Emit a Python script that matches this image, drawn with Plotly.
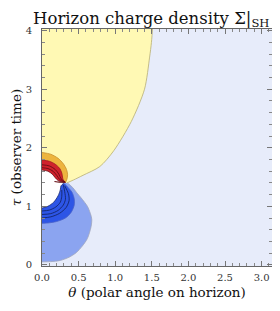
import plotly.graph_objects as go

# ---- region boundaries: theta (polar angle), tau (observer time)
yellow_edge_theta = [1.525, 1.51, 1.495, 1.47, 1.40, 1.22, 0.98, 0.79, 0.56, 0.43, 0.34]
yellow_edge_tau   = [4.20, 4.03, 3.80, 3.55, 3.00, 2.45, 1.95, 1.68, 1.53, 1.45, 1.40]

orange_edge_theta = [0.0, 0.12, 0.22, 0.29, 0.335, 0.35, 0.34, 0.32]
orange_edge_tau   = [1.92, 1.89, 1.82, 1.73, 1.63, 1.54, 1.46, 1.41]

red_edge_theta = [0.0, 0.10, 0.18, 0.24, 0.27, 0.28, 0.29, 0.32]
red_edge_tau   = [1.79, 1.77, 1.72, 1.65, 1.57, 1.50, 1.45, 1.41]

white_top_theta = [0.0, 0.08, 0.14, 0.18, 0.22, 0.30]
white_top_tau   = [1.62, 1.60, 1.55, 1.49, 1.44, 1.41]
white_bot_theta = [0.30, 0.26, 0.25, 0.22, 0.16, 0.08, 0.0]
white_bot_tau   = [1.40, 1.35, 1.28, 1.18, 1.07, 1.00, 0.97]

blue_edge_theta = [0.30, 0.35, 0.41, 0.44, 0.44, 0.40, 0.32, 0.20, 0.08, 0.0]
blue_edge_tau   = [1.39, 1.33, 1.24, 1.13, 1.02, 0.90, 0.80, 0.74, 0.715, 0.71]

lightblue_edge_theta = [0.35, 0.42, 0.47, 0.55, 0.62, 0.66, 0.68, 0.67, 0.62, 0.55, 0.47, 0.37, 0.25, 0.12, 0.0]
lightblue_edge_tau   = [1.395, 1.32, 1.24, 1.12, 1.00, 0.88, 0.78, 0.65, 0.45, 0.32, 0.21, 0.13, 0.075, 0.055, 0.05]

# interior contour lines
red_lines_theta = [[0.0, 0.08, 0.15, 0.20, 0.24, 0.31],
                   [0.0, 0.10, 0.18, 0.23, 0.26, 0.32]]
red_lines_tau   = [[1.66, 1.645, 1.60, 1.53, 1.46, 1.41],
                   [1.71, 1.69, 1.63, 1.55, 1.47, 1.41]]
tail_theta = [0.17, 0.24, 0.32]
tail_tau   = [1.425, 1.413, 1.41]

blue_lines_theta = [[0.0, 0.12, 0.24, 0.33, 0.37, 0.36, 0.31],
                    [0.0, 0.12, 0.22, 0.29, 0.32, 0.31, 0.29],
                    [0.0, 0.10, 0.19, 0.25, 0.27, 0.27]]
blue_lines_tau   = [[0.80, 0.82, 0.88, 0.98, 1.10, 1.22, 1.35],
                    [0.86, 0.875, 0.93, 1.02, 1.12, 1.25, 1.37],
                    [0.92, 0.935, 0.99, 1.07, 1.17, 1.28]]

x_ticks = [0.0, 0.5, 1.0, 1.5, 2.0, 2.5, 3.0]
y_ticks = [0, 1, 2, 3, 4]

C_BG = "#E7ECFA"
C_YEL = "#FFF9B4"
C_ORA = "#EDB43E"
C_RED = "#D0222C"
C_DBL = "#2D55E6"
C_LBL = "#8BA4F0"

fig = go.Figure()

def region(th, ta, color):
    fig.add_trace(go.Scatter(x=th, y=ta, mode="lines", fill="toself", fillcolor=color,
                             line=dict(width=0, shape="spline", smoothing=0.8),
                             hoverinfo="skip", showlegend=False))

def edge(th, ta, color, w=0.8):
    fig.add_trace(go.Scatter(x=th, y=ta, mode="lines",
                             line=dict(width=w, color=color, shape="spline", smoothing=0.8),
                             hoverinfo="skip", showlegend=False))

L = -0.08
region([L] + yellow_edge_theta + [L], [4.2] + yellow_edge_tau + [yellow_edge_tau[-1]], C_YEL)
region([L] + lightblue_edge_theta + [L], [1.40] + lightblue_edge_tau + [lightblue_edge_tau[-1]], C_LBL)
region([L] + blue_edge_theta + [L], [1.40] + blue_edge_tau + [blue_edge_tau[-1]], C_DBL)
region([L] + orange_edge_theta + [L], [orange_edge_tau[0]] + orange_edge_tau + [1.41], C_ORA)
region([L] + red_edge_theta + [L], [red_edge_tau[0]] + red_edge_tau + [1.41], C_RED)
region([L] + white_top_theta + white_bot_theta + [L],
       [white_top_tau[0]] + white_top_tau + white_bot_tau + [white_bot_tau[-1]], "white")

edge(yellow_edge_theta, yellow_edge_tau, "#B8AE72")
edge(lightblue_edge_theta, lightblue_edge_tau, "#A0A6BC")
edge(blue_edge_theta, blue_edge_tau, "#4A62C8")
edge(orange_edge_theta, orange_edge_tau, "#C89030")
edge(red_edge_theta, red_edge_tau, "#A01820")
for th, ta in zip(red_lines_theta, red_lines_tau):
    edge(th, ta, "#5A0A10", 0.8)
edge(white_top_theta, white_top_tau, "#6A1018", 0.8)
edge(tail_theta, tail_tau, "#600A10", 1.1)
for th, ta in zip(blue_lines_theta, blue_lines_tau):
    edge(th, ta, "#10205A", 0.8)
edge(white_bot_theta, white_bot_tau, "#1A2A70", 0.8)

FONT = "DejaVu Serif"
axis_common = dict(showline=True, linecolor="#666", linewidth=1, mirror="ticks",
                   ticks="inside", ticklen=5, tickcolor="#777", tickwidth=0.8,
                   showgrid=False, zeroline=False,
                   tickfont=dict(family=FONT, size=10, color="#333"))

# page body adds an 8px offset; figure is sized to compensate
fig.update_layout(
    width=272, height=303,
    margin=dict(l=30, r=7, t=21, b=45),
    paper_bgcolor="white", plot_bgcolor=C_BG,
    title=dict(text="Horizon charge density Σ|<sub>SH</sub>", x=0.475, xref="paper",
               xanchor="center", y=0.967, yref="container", yanchor="middle",
               font=dict(family=FONT, size=16.5, color="#111")),
    xaxis=dict(range=[0, 3.14159], tickvals=x_ticks, ticktext=[f"{v:.1f}" for v in x_ticks],
               minor=dict(ticks="inside", ticklen=3, dtick=0.1, tick0=0, tickcolor="#888"),
               ticklabelstandoff=2,
               title=dict(text="<i>θ</i> (polar angle on horizon)", standoff=5,
                          font=dict(family=FONT, size=13.5, color="#111")),
               **axis_common),
    yaxis=dict(range=[-0.02, 4.03], tickvals=y_ticks, ticktext=[str(v) for v in y_ticks],
               minor=dict(ticks="inside", ticklen=3, dtick=0.2, tick0=0, tickcolor="#888"),
               ticklabelstandoff=7,
               title=dict(text="<i>τ</i> (observer time)", standoff=1,
                          font=dict(family=FONT, size=13.5, color="#111")),
               **axis_common),
)

fig.write_html("out.html")
